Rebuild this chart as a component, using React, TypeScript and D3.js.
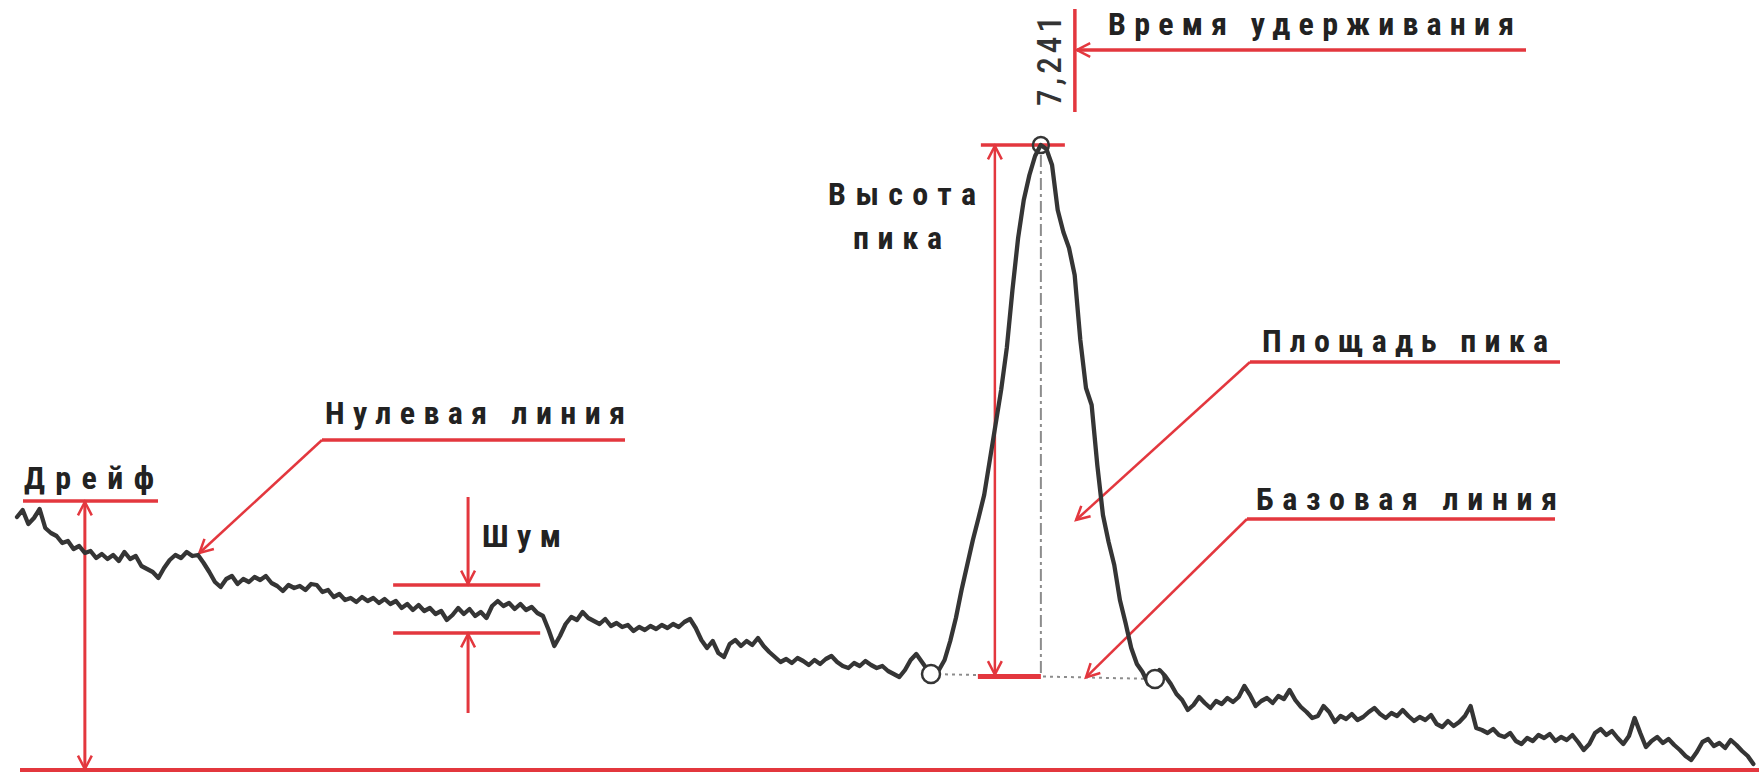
import React from 'react';
import * as d3 from 'd3';

// Detector signal, one sample every SAMPLE_INTERVAL minutes starting at 0 min (mV)
const SAMPLE_INTERVAL = 0.04;
const signal: number[] = [
  50.6, 52.0, 49.2, 50.4, 52.2, 48.4, 47.4, 46.8, 45.4, 45.8,
  44.2, 44.8, 43.4, 43.8, 42.4, 43.2, 42.2, 43.0, 41.8, 43.6,
  42.2, 42.8, 40.8, 40.2, 39.6, 38.4, 40.4, 42.0, 43.0, 42.4,
  43.6, 42.8, 43.0, 41.4, 39.6, 37.6, 36.6, 38.2, 38.8, 37.2,
  38.2, 37.6, 38.6, 38.0, 38.8, 37.4, 36.8, 35.8, 37.0, 36.4,
  36.8, 36.0, 37.2, 37.0, 35.6, 36.0, 34.6, 35.2, 34.0, 34.4,
  33.6, 34.6, 33.8, 34.4, 33.4, 34.2, 33.2, 33.8, 32.4, 33.2,
  32.0, 33.0, 31.8, 32.4, 31.2, 31.8, 30.0, 31.0, 32.4, 31.2,
  32.2, 30.8, 31.6, 30.4, 32.8, 33.8, 32.8, 33.4, 32.2, 33.2,
  32.0, 32.6, 31.4, 30.8, 28.0, 24.8, 26.8, 29.2, 30.6, 30.0,
  31.6, 30.4, 29.8, 29.2, 30.2, 28.8, 29.4, 28.6, 29.0, 27.8,
  28.6, 28.0, 28.8, 28.2, 29.0, 28.4, 29.2, 28.6, 29.6, 30.2,
  28.4, 26.0, 24.4, 25.8, 23.4, 22.6, 25.2, 26.0, 24.8, 25.8,
  25.0, 26.4, 24.8, 23.6, 22.6, 21.6, 22.2, 21.4, 22.4, 21.8,
  21.0, 22.0, 21.2, 22.2, 22.8, 21.6, 20.8, 20.4, 21.4, 20.8,
  21.8, 21.0, 20.4, 20.8, 19.8, 19.2, 18.6, 20.0, 22.0, 23.2,
  21.6, 20.0, 19.2, 20.0, 22.0, 25.8, 30.4, 36.0, 41.0, 46.0,
  50.4, 55.0, 62.0, 69.0, 76.0, 84.4, 96.0, 106.4, 114.0, 119.0,
  122.8, 125.0, 124.2, 121.0, 112.0, 107.6, 104.4, 99.0, 86.0, 76.4,
  73.0, 61.0, 51.0, 45.6, 41.0, 34.0, 29.4, 24.4, 21.2, 19.6,
  17.2, 18.2, 20.0, 18.8, 17.2, 15.2, 14.0, 12.0, 13.0, 14.6,
  13.4, 12.4, 13.8, 13.2, 14.4, 13.6, 14.6, 16.8, 15.0, 12.8,
  13.8, 14.4, 13.4, 14.8, 14.2, 16.0, 14.0, 12.6, 11.6, 10.4,
  10.8, 12.8, 11.6, 9.6, 10.8, 10.2, 11.2, 10.0, 10.6, 11.6,
  12.4, 11.2, 10.4, 11.4, 10.8, 12.0, 10.8, 9.8, 10.6, 10.0,
  11.0, 9.2, 8.6, 9.8, 8.8, 9.6, 10.8, 12.8, 8.4, 8.0,
  7.4, 8.2, 7.0, 6.6, 7.4, 5.8, 5.2, 6.4, 5.8, 7.0,
  6.4, 7.2, 5.8, 6.6, 6.0, 7.0, 5.6, 4.0, 5.2, 7.4,
  8.2, 7.0, 7.8, 6.4, 5.2, 6.8, 10.4, 7.4, 4.6, 5.8,
  6.6, 5.4, 6.2, 5.0, 4.0, 2.8, 2.0, 3.6, 5.6, 6.2,
  4.8, 5.4, 4.4, 6.0, 5.0, 3.8, 2.8, 1.2,
];

const TIME_DOMAIN: [number, number] = [0, 12.29];
const SIGNAL_DOMAIN: [number, number] = [0, 125];

// Peak parameters
const RETENTION_TIME = 7.241;
const PEAK_APEX = 125.0;
const PEAK_START = { time: 6.464, value: 19.2 };
const PEAK_END = { time: 8.048, value: 18.2 };

// Drift and noise measurements
const DRIFT = { time: 0.48, value: 53.8 };
const NOISE = { from: 2.66, to: 3.7, at: 3.19, upper: 37.0, lower: 27.4 };

// Points the callouts refer to
const ZERO_LINE_POINT = { time: 1.29, value: 43.4 };
const AREA_POINT = { time: 7.49, value: 50.0 };
const BASELINE_POINT_TIME = 7.56;

// Label texts
const LABEL_DRIFT = 'Дрейф';
const LABEL_ZERO = 'Нулевая линия';
const LABEL_NOISE = 'Шум';
const LABEL_HEIGHT = ['Высота', 'пика'];
const LABEL_RT = 'Время удерживания';
const LABEL_AREA = 'Площадь пика';
const LABEL_BASE = 'Базовая линия';
const RT_TEXT = '7,241';

const W = 1759;
const H = 775;
const RED = '#e3373e';
const INK = '#222222';
const TRACE = '#353535';
const GUIDE = '#8c8c8c';
const LABEL_FONT = "'Roboto Condensed', 'Liberation Sans Narrow', 'DejaVu Sans Condensed', 'Liberation Sans', sans-serif";
const VALUE_FONT = "'Roboto Condensed', 'Liberation Sans Narrow', 'DejaVu Sans Condensed', 'Liberation Sans', sans-serif";

function arrowHead(tipX: number, tipY: number, fromX: number, fromY: number, len = 15, spread = 0.48) {
  const a = Math.atan2(tipY - fromY, tipX - fromX);
  const x1 = tipX - len * Math.cos(a - spread);
  const y1 = tipY - len * Math.sin(a - spread);
  const x2 = tipX - len * Math.cos(a + spread);
  const y2 = tipY - len * Math.sin(a + spread);
  return `M${x1},${y1}L${tipX},${tipY}L${x2},${y2}`;
}

const Label = ({ x, y, text, width }: { x: number; y: number; text: string; width: number }) => (
  <text
    x={x}
    y={y}
    textLength={width}
    lengthAdjust="spacing"
    fontFamily={LABEL_FONT}
    fontWeight={700}
    fontSize={32}
    fill={INK}
  >
    {text}
  </text>
);

export default function App() {
  const x = d3.scaleLinear().domain(TIME_DOMAIN).range([17, 1754.8]);
  const y = d3.scaleLinear().domain(SIGNAL_DOMAIN).range([770, 145]);

  const points: [number, number][] = signal.map((v, i) => [i * SAMPLE_INTERVAL, v]);
  const line = d3
    .line<[number, number]>()
    .x((d) => x(d[0]))
    .y((d) => y(d[1]))
    .curve(d3.curveLinear);

  const baselineAt = (t: number) =>
    PEAK_START.value +
    ((t - PEAK_START.time) / (PEAK_END.time - PEAK_START.time)) * (PEAK_END.value - PEAK_START.value);

  const apexX = x(RETENTION_TIME);
  const apexY = y(PEAK_APEX);
  const baseY = y(baselineAt(RETENTION_TIME));
  const heightX = apexX - 46;
  const rtX = apexX + 34;

  const driftX = x(DRIFT.time);
  const driftTop = y(DRIFT.value);
  const zeroY = y(0);

  const noiseX = x(NOISE.at);
  const noiseTop = y(NOISE.upper);
  const noiseBottom = y(NOISE.lower);

  const zeroTip = [x(ZERO_LINE_POINT.time), y(ZERO_LINE_POINT.value)];
  const areaTip = [x(AREA_POINT.time), y(AREA_POINT.value)];
  const baseTip = [x(BASELINE_POINT_TIME), y(baselineAt(BASELINE_POINT_TIME))];

  const zeroUnder = { x1: 322, x2: 625, y: 440 };
  const areaUnder = { x1: 1250, x2: 1560, y: 362 };
  const baseUnder = { x1: 1247, x2: 1555, y: 519 };
  const rtUnderY = 50;

  return (
    <svg
      width={W}
      height={H}
      viewBox={`0 0 ${W} ${H}`}
      style={{ position: 'absolute', left: 0, top: 0, display: 'block', background: '#ffffff' }}
    >
      <rect x={0} y={0} width={W} height={H} fill="#ffffff" />

      {/* zero signal line */}
      <line x1={20} x2={W} y1={zeroY} y2={zeroY} stroke={RED} strokeWidth={4} />

      {/* drift */}
      <line x1={23} x2={158} y1={driftTop} y2={driftTop} stroke={RED} strokeWidth={3.5} />
      <line x1={driftX} x2={driftX} y1={driftTop} y2={zeroY} stroke={RED} strokeWidth={3} />
      <path d={arrowHead(driftX, driftTop + 1, driftX, driftTop + 50)} stroke={RED} strokeWidth={2.5} fill="none" />
      <path d={arrowHead(driftX, zeroY - 1, driftX, zeroY - 50)} stroke={RED} strokeWidth={2.5} fill="none" />

      {/* zero line callout */}
      <line x1={zeroUnder.x1} x2={zeroUnder.x2} y1={zeroUnder.y} y2={zeroUnder.y} stroke={RED} strokeWidth={3.5} />
      <line x1={zeroUnder.x1} y1={zeroUnder.y} x2={zeroTip[0]} y2={zeroTip[1]} stroke={RED} strokeWidth={2.5} />
      <path d={arrowHead(zeroTip[0], zeroTip[1], zeroUnder.x1, zeroUnder.y)} stroke={RED} strokeWidth={2.5} fill="none" />

      {/* noise band */}
      <line x1={x(NOISE.from)} x2={x(NOISE.to)} y1={noiseTop} y2={noiseTop} stroke={RED} strokeWidth={3.5} />
      <line x1={x(NOISE.from)} x2={x(NOISE.to)} y1={noiseBottom} y2={noiseBottom} stroke={RED} strokeWidth={3.5} />
      <line x1={noiseX} x2={noiseX} y1={noiseTop - 88} y2={noiseTop} stroke={RED} strokeWidth={3} />
      <line x1={noiseX} x2={noiseX} y1={noiseBottom} y2={noiseBottom + 80} stroke={RED} strokeWidth={3} />
      <path d={arrowHead(noiseX, noiseTop - 1, noiseX, noiseTop - 50)} stroke={RED} strokeWidth={2.5} fill="none" />
      <path d={arrowHead(noiseX, noiseBottom + 1, noiseX, noiseBottom + 50)} stroke={RED} strokeWidth={2.5} fill="none" />

      {/* peak guides */}
      <line
        x1={x(PEAK_START.time)}
        y1={y(PEAK_START.value)}
        x2={x(PEAK_END.time)}
        y2={y(PEAK_END.value)}
        stroke={GUIDE}
        strokeWidth={2}
        strokeDasharray="3 4"
      />
      <line
        x1={apexX}
        x2={apexX}
        y1={apexY + 10}
        y2={baseY}
        stroke={GUIDE}
        strokeWidth={2}
        strokeDasharray="12 4 3 4"
      />

      {/* peak height */}
      <line x1={apexX - 60} x2={apexX + 24} y1={apexY} y2={apexY} stroke={RED} strokeWidth={3.5} />
      <line x1={apexX - 63} x2={apexX} y1={baseY} y2={baseY} stroke={RED} strokeWidth={5} />
      <line x1={heightX} x2={heightX} y1={apexY} y2={baseY} stroke={RED} strokeWidth={2.5} />
      <path d={arrowHead(heightX, apexY + 1, heightX, apexY + 50)} stroke={RED} strokeWidth={2.5} fill="none" />
      <path d={arrowHead(heightX, baseY - 2, heightX, baseY - 50)} stroke={RED} strokeWidth={2.5} fill="none" />

      {/* retention time */}
      <line x1={rtX} x2={rtX} y1={9} y2={112} stroke={RED} strokeWidth={3.5} />
      <line x1={rtX + 2} x2={1526} y1={rtUnderY} y2={rtUnderY} stroke={RED} strokeWidth={3.5} />
      <path d={arrowHead(rtX + 2, rtUnderY, rtX + 50, rtUnderY)} stroke={RED} strokeWidth={2.5} fill="none" />

      {/* peak area callout */}
      <line x1={areaUnder.x1} x2={areaUnder.x2} y1={areaUnder.y} y2={areaUnder.y} stroke={RED} strokeWidth={3.5} />
      <line x1={areaUnder.x1} y1={areaUnder.y} x2={areaTip[0]} y2={areaTip[1]} stroke={RED} strokeWidth={2.5} />
      <path d={arrowHead(areaTip[0], areaTip[1], areaUnder.x1, areaUnder.y)} stroke={RED} strokeWidth={2.5} fill="none" />

      {/* baseline callout */}
      <line x1={baseUnder.x1} x2={baseUnder.x2} y1={baseUnder.y} y2={baseUnder.y} stroke={RED} strokeWidth={3.5} />
      <line x1={baseUnder.x1} y1={baseUnder.y} x2={baseTip[0]} y2={baseTip[1]} stroke={RED} strokeWidth={2.5} />
      <path d={arrowHead(baseTip[0], baseTip[1], baseUnder.x1, baseUnder.y)} stroke={RED} strokeWidth={2.5} fill="none" />

      {/* chromatogram trace */}
      <path d={line(points) ?? ''} fill="none" stroke={TRACE} strokeWidth={4.3} strokeLinejoin="round" strokeLinecap="round" />

      {/* peak markers */}
      <circle cx={x(PEAK_START.time)} cy={y(PEAK_START.value)} r={9} fill="#ffffff" stroke={TRACE} strokeWidth={2.5} />
      <circle cx={x(PEAK_END.time)} cy={y(PEAK_END.value)} r={9} fill="#ffffff" stroke={TRACE} strokeWidth={2.5} />
      <circle cx={apexX} cy={apexY} r={8} fill="none" stroke={TRACE} strokeWidth={2.5} />

      {/* retention time value */}
      <text
        x={rtX - 14}
        y={61}
        transform={`rotate(-90, ${rtX - 14}, 61)`}
        textAnchor="middle"
        textLength={90}
        lengthAdjust="spacing"
        fontFamily={VALUE_FONT}
        fontWeight={500}
        fontSize={33}
        fill="#333333"
      >
        {RT_TEXT}
      </text>

      {/* labels */}
      <Label x={24} y={489} text={LABEL_DRIFT} width={130} />
      <Label x={325} y={424} text={LABEL_ZERO} width={300} />
      <Label x={482} y={547} text={LABEL_NOISE} width={79} />
      <Label x={828} y={205} text={LABEL_HEIGHT[0]} width={148} />
      <Label x={853} y={249} text={LABEL_HEIGHT[1]} width={89} />
      <Label x={1108} y={35} text={LABEL_RT} width={406} />
      <Label x={1262} y={352} text={LABEL_AREA} width={286} />
      <Label x={1256} y={510} text={LABEL_BASE} width={301} />
    </svg>
  );
}
